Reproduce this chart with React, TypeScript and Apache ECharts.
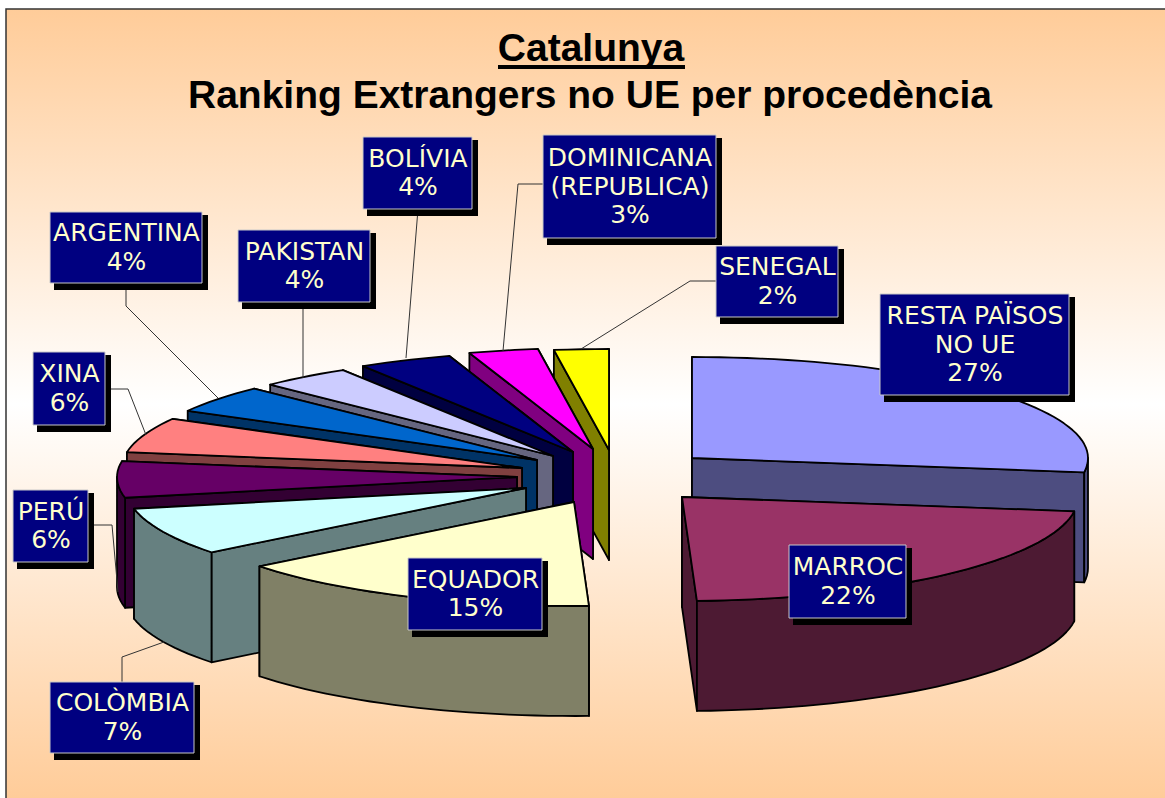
import React, { useEffect, useRef } from "react";
import * as echarts from "echarts";

const categories = [
  "RESTA PAÏSOS\nNO UE",
  "MARROC",
  "EQUADOR",
  "COLÒMBIA",
  "PERÚ",
  "XINA",
  "ARGENTINA",
  "PAKISTAN",
  "BOLÍVIA",
  "DOMINICANA\n(REPUBLICA)",
  "SENEGAL",
];
const shares = [27.2, 22.2, 15.0, 7.4, 5.7, 5.6, 4.4, 3.7, 3.8, 2.8, 2.2];

const titleLines = ["Catalunya", "Ranking Extrangers no UE per procedència"];

const topColors = ["#9999FF", "#993366", "#FFFFCC", "#CCFFFF", "#660066", "#FF8080", "#0066CC", "#CCCCFF", "#000080", "#FF00FF", "#FFFF00"];
const sideColors = ["#4D4D80", "#4D1A33", "#808066", "#668080", "#330033", "#804040", "#003366", "#666680", "#000040", "#800080", "#808000"];

// Layout: where each exploded slice's apex sits, in page pixels
const apexes = [
  [692, 458], [682, 497], [574, 502], [526, 488], [517, 477], [522, 468],
  [537, 460], [553, 456], [573, 452], [593, 449], [609, 450],
];
const RX_RIGHT = 396;
const RX_LEFT = 400;
const RY_BACK = 101;
const RY_FRONT = 104;
const DEPTH = 110;
// Painter's order, back to front
const drawOrder = [0, 1, 10, 9, 8, 7, 6, 5, 4, 3, 2];

// Layout: label boxes [left, top, right, bottom]
const boxes = [
  [880, 294, 1069, 395], [789, 545, 906, 618], [408, 558, 542, 630], [50, 682, 194, 753],
  [13, 490, 88, 562], [33, 352, 105, 425], [50, 212, 202, 283], [238, 230, 370, 302],
  [363, 137, 472, 209], [543, 135, 716, 238], [716, 246, 838, 317],
];
// Layout: leader lines
const leaders: (number[][] | null)[] = [
  null, null, null,
  [[122, 682], [122, 657], [164, 642]],
  [[88, 525], [112, 525], [118, 592]],
  [[105, 389], [128, 389], [146, 435]],
  [[126, 283], [126, 306], [218, 398]],
  [[303, 302], [303, 378]],
  [[418, 209], [406, 358]],
  [[543, 184], [518, 184], [503, 351]],
  [[716, 281], [690, 281], [581, 349]],
];

const cumulative: number[] = [];
shares.reduce((acc, v) => {
  cumulative.push(acc);
  return acc + v;
}, 0);
const total = shares.reduce((a, b) => a + b, 0);
const startDeg = shares.map((_, i) => (cumulative[i] / total) * 360);
const endDeg = shares.map((v, i) => ((cumulative[i] + v) / total) * 360);
const sliceData = drawOrder.map((i) => [startDeg[i], endDeg[i], i]);

const rad = (d: number) => (d * Math.PI) / 180;

function renderSlice(_: any, api: any) {
  const a = api.value(0);
  const b = api.value(1);
  const i = api.value(2);
  const [cx, cy] = apexes[i];
  const pt = (deg: number, dz = 0) => {
    const c = Math.cos(rad(deg));
    const s = Math.sin(rad(deg));
    return [cx + (s > 0 ? RX_RIGHT : RX_LEFT) * s, cy - (c > 0 ? RY_BACK : RY_FRONT) * c + dz];
  };
  const arc = (from: number, to: number, dz = 0) => {
    const n = Math.max(2, Math.ceil((to - from) / 2));
    const out: number[][] = [];
    for (let k = 0; k <= n; k++) out.push(pt(from + ((to - from) * k) / n, dz));
    return out;
  };
  const edge = { stroke: "#000", lineWidth: 1.8, lineJoin: "round" };
  const poly = (points: number[][], fill: string) => ({
    type: "polygon",
    shape: { points },
    style: { fill, ...edge },
  });
  const radial = (deg: number) => poly([[cx, cy], pt(deg), pt(deg, DEPTH), [cx, cy + DEPTH]], sideColors[i]);
  const faces = pt(a)[1] < pt(b)[1] ? [radial(a), radial(b)] : [radial(b), radial(a)];
  const children: any[] = [...faces];
  const wallFrom = Math.max(a, 90);
  const wallTo = Math.min(b, 270);
  if (wallTo > wallFrom) {
    children.push(poly([...arc(wallFrom, wallTo), ...arc(wallFrom, wallTo, DEPTH).reverse()], sideColors[i]));
  }
  children.push(poly([[cx, cy], ...arc(a, b)], topColors[i]));
  return { type: "group", silent: true, children };
}

function renderLabel(_: any, api: any) {
  const i = api.value(0);
  const [l, t, r, bt] = boxes[i];
  const children: any[] = [];
  if (leaders[i]) {
    children.push({
      type: "polyline",
      shape: { points: leaders[i] },
      style: { stroke: "#333", lineWidth: 1, fill: "none" },
    });
  }
  children.push({
    type: "rect",
    shape: { x: l + 4, y: t + 3, width: r - l + 2, height: bt - t + 4 },
    style: { fill: "#000" },
  });
  children.push({
    type: "rect",
    shape: { x: l, y: t, width: r - l, height: bt - t },
    style: { fill: "#000080", stroke: "#C8C8C8", lineWidth: 1 },
  });
  children.push({
    type: "text",
    style: {
      x: (l + r) / 2 + 0.5,
      y: (t + bt) / 2 - 0.5,
      text: `${categories[i]}\n${Math.round(shares[i])}%`,
      fill: "#FFFFCC",
      font: '25px "DejaVu Sans"',
      lineHeight: 28.5,
      align: "center",
      verticalAlign: "middle",
    },
  });
  return { type: "group", silent: true, children };
}

export default function App() {
  const ref = useRef<HTMLDivElement>(null);
  useEffect(() => {
    document.body.style.margin = "0";
    const chart = echarts.init(ref.current!, null, { renderer: "svg" });
    chart.setOption({
      animation: false,
      backgroundColor: "#FFFFFF",
      graphic: [
        {
          type: "rect",
          z: -10,
          shape: { x: 6, y: 9, width: 1170, height: 790 },
          style: {
            stroke: "#333",
            lineWidth: 1.5,
            fill: {
              type: "linear", x: 0, y: 0, x2: 0, y2: 1,
              colorStops: [
                { offset: 0, color: "#FFCC99" },
                { offset: 0.5, color: "#FFFFFF" },
                { offset: 1, color: "#FFCC99" },
              ],
            },
          },
        },
        {
          type: "text",
          style: { x: 591, y: 47, text: titleLines[0], align: "center", verticalAlign: "middle", fill: "#000", font: 'bold 39px "Liberation Sans"' },
        },
        { type: "rect", shape: { x: 498, y: 65, width: 187, height: 4 }, style: { fill: "#000" } },
        {
          type: "text",
          style: { x: 590, y: 94, text: titleLines[1], align: "center", verticalAlign: "middle", fill: "#000", font: 'bold 39px "Liberation Sans"' },
        },
      ],
      series: [
        { type: "custom", coordinateSystem: "none", z: 2, data: sliceData, renderItem: renderSlice, silent: true },
        { type: "custom", coordinateSystem: "none", z: 3, data: categories.map((_, i) => [i]), renderItem: renderLabel, silent: true },
      ],
    });
    return () => chart.dispose();
  }, []);
  return <div ref={ref} style={{ position: "fixed", left: 0, top: 0, width: 1165, height: 798 }} />;
}
